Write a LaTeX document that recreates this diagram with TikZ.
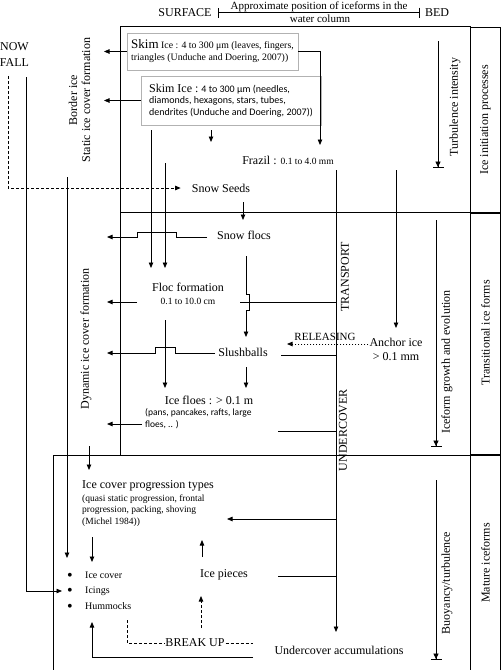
\documentclass[tikz,border=0pt]{standalone}
\usepackage{fontspec}
\setmainfont{Liberation Serif}
\newfontfamily\calfont{Carlito}
\usetikzlibrary{arrows.meta}
\newcommand\bigbul{\raisebox{-2.2pt}{\fontsize{16}{16}\selectfont\textbullet}}
\begin{document}
\begin{tikzpicture}[x=1pt,y=-1pt,
  ln/.style={line width=0.75pt},
  arr/.style={ln,-{Triangle[length=5.5pt,width=4.5pt]}},
  darr/.style={arr,dash pattern=on 3pt off 2pt},
  barr/.style={ln,-{Triangle[length=5.5pt,width=5pt,sep=0pt]Bar[width=11pt,line width=0.9pt]}},
  dsh/.style={ln,dash pattern=on 3pt off 2pt},
  t12/.style={font=\fontsize{12}{14}\selectfont,inner sep=1pt},
  rot/.style={t12,rotate=90},
  skbox/.style={draw=black!30,line width=0.5pt,align=left,inner sep=3pt},
  itm/.style={font=\fontsize{10}{12}\selectfont,inner sep=0pt,anchor=west},
]
\useasboundingbox (0,0) rectangle (503,670);
% ---------- frame ----------
\draw[ln] (120,455) -- (120,26) -- (470,26);
\draw[ln] (120,212) -- (470,212);
\draw[ln] (53,670) -- (53,455) -- (470,455);
\draw[line width=0.9pt] (470,26) -- (470,670) (470,27) -- (500,27) -- (500,670);
\draw[line width=1.6pt] (470,213) -- (501,213);
\draw[line width=1.3pt] (470,455) -- (501,455);
% ---------- header ----------
\node[t12] (surface) at (185,13) {SURFACE};
\node[font=\fontsize{11}{12}\selectfont,inner sep=0pt] (hdrA) at (319,6.5) {Approximate position of iceforms in the};
\node[font=\fontsize{11}{12}\selectfont,inner sep=0pt] (hdrB) at (320,19) {water column};
\node[t12] (bed) at (437,13) {BED};
\coordinate (hl) at (218,12.5);
\coordinate (hr) at (420,12.5);
\draw[ln,{Bar[width=10pt]}-{Bar[width=10pt]}] (hl) -- (hr);
% ---------- side labels ----------
\node[font=\fontsize{12}{16}\selectfont,inner sep=1pt,align=center] (snow) at (14.5,55) {NOW\\FALL};
\node[rot,align=center,font=\fontsize{12}{13}\selectfont] (border) at (79.5,100) {Border ice\\Static ice cover formation};
\node[rot] (dyn) at (86,339) {Dynamic ice cover formation};
\node[rot] (turb) at (455,107) {Turbulence intensity};
\node[rot] (rc1) at (485.5,120) {Ice initiation processes};
\node[rot] (ifg) at (447,362) {Iceform growth and evolution};
\node[rot] (rc2) at (485.5,333) {Transitional ice forms};
\node[rot] (buoy) at (447,583) {Buoyancy/turbulence};
\node[rot] (rc3) at (485.5,563) {Mature iceforms};
\node[rot] (transport) at (345,277) {TRANSPORT};
\node[rot] (under) at (343,430) {UNDERCOVER};
% ---------- skim ice boxes ----------
\node[skbox,font=\fontsize{9.8}{12}\selectfont,minimum width=171pt,minimum height=37pt] (skim1) at (212.5,51.5)
  {{\fontsize{13}{12}\selectfont Skim} Ice : 4 to 300 μm (leaves, fingers,\\triangles (Unduche and Doering, 2007))};
\node[skbox,font=\calfont\fontsize{10}{11.5}\selectfont,minimum width=180pt,minimum height=49pt] (skim2) at (231,100.5)
  {{\rmfamily\fontsize{12}{11.5}\selectfont Skim Ice :} 4 to 300 μm (needles,\\diamonds, hexagons, stars, tubes,\\dendrites (Unduche and Doering, 2007))};
% ---------- ice forms ----------
\node[t12] (frazil) at (288,160) {Frazil : {\fontsize{9.5}{11}\selectfont 0.1 to 4.0 mm}};
\node[t12] (seeds) at (221,188) {Snow Seeds};
\node[t12] (flocs) at (244,235) {Snow flocs};
\node[t12,align=center,font=\fontsize{12}{12.5}\selectfont] (floc) at (188,294) {Floc formation\\{\fontsize{9.5}{11}\selectfont 0.1 to 10.0 cm}};
\node[t12] (slush) at (243,352) {Slushballs};
\node[t12,align=center] (anchor) at (396,349) {Anchor ice\\> 0.1 mm};
\node[font=\fontsize{11}{12}\selectfont,inner sep=0pt] (rel) at (325,337) {RELEASING};
\node[t12] (floes) at (209,400) {Ice floes : > 0.1 m};
\node[anchor=west,inner sep=0pt,align=left,font=\calfont\fontsize{9.5}{12}\selectfont] (floessub) at (145,419) {(pans, pancakes, rafts, large\\floes, .. )};
\node[t12,anchor=west,inner sep=0pt] (icp) at (82,486) {Ice cover progression types};
\node[anchor=west,inner sep=0pt,align=left,font=\fontsize{9.5}{11.5}\selectfont] (icpsub) at (82,510.5) {(quasi static progression, frontal\\progression, packing, shoving\\(Michel 1984))};
\node[itm] (icecover) at (67,576) {\bigbul\hspace{12.4pt}Ice cover};
\node[itm] (icings) at (67,591) {\bigbul\hspace{12.4pt}Icings};
\node[itm] (hummocks) at (67,607) {\bigbul\hspace{12.4pt}Hummocks};
\node[t12] (icepieces) at (224,575) {Ice pieces};
\node[t12] (breakup) at (195,643) {BREAK UP};
\node[t12] (ucacc) at (339,650) {Undercover accumulations};
% ---------- named free ends ----------
\coordinate (lb) at (104,0);
\coordinate (lc) at (107,0);
\coordinate (fz) at (320,145);
\coordinate (s2a) at (211,130);
\coordinate (s2b) at (211,142);
\coordinate (sfa) at (8,76);
\coordinate (sfb) at (26,77);
\coordinate (bi1) at (67,177);
\coordinate (bi2) at (67,558);
\coordinate (v1) at (151,130);
\coordinate (v2) at (165,163);
\coordinate (vt) at (0,268);
\coordinate (k1) at (243,202);
\coordinate (k2) at (243,220);
\coordinate (tr1) at (336,170);
\coordinate (tr2) at (336,632);
\coordinate (an1) at (396,170);
\coordinate (an2) at (396,328);
\coordinate (tu1) at (438,41);
\coordinate (tu2) at (438,168);
\coordinate (ig1) at (436,220);
\coordinate (ig2) at (436,447);
\coordinate (bu1) at (436,480);
\coordinate (bu2) at (436,660);
\coordinate (relt) at (287,344);
\coordinate (hu1) at (127,620);
\coordinate (br2) at (253,643);
\coordinate (uc1) at (253,657);
\coordinate (hmt) at (92,622);
% ---------- connectors ----------
\draw[arr] (skim1.west) -- (skim1.west -| lb);
\draw[arr] (skim2.west) -- (skim2.west -| lb);
\draw[arr] (skim1.east) -| (fz);
\draw[arr] (s2a) -- (s2b);
\draw[darr] (sfa) |- ([xshift=-10pt]seeds.west);
\draw[arr] (sfb) |- ([xshift=-5pt]icings.west);
\draw[arr] (bi1) -- (bi2);
\draw[arr] (v1) -- (v1 |- vt);
\draw[arr] (v2) -- (v2 |- vt);
\draw[arr] (k1) -- (k2);
\draw[arr] (tr1) -- (tr2);
\draw[arr] (an1) -- (an2);
\draw[barr] (tu1) -- (tu2);
\draw[barr] (ig1) -- (ig2);
\draw[barr] (bu1) -- (bu2);
% dynamic formation arrows (with line jumps)
\draw[arr] (207,237) -- (176,237) -- (176,232) -- (137,232) -- (137,237) -- (107,237);
\draw[arr] (137,302) -- (107,302);
\draw[ln] (240,302) -- (336,302);
\draw[arr] (246,256) -- (246,294) -- (249,294) -- (249,310) -- (246,310) -- (246,337);
\draw[arr] (165,320) -- (165,388);
\draw[arr] (215,353) -- (175,353) -- (175,347) -- (155,347) -- (155,353) -- (107,353);
\draw[arr] (246,367) -- (246,388);
\draw[ln] (281,355) -- (336,355);
\draw[arr,dash pattern=on 1.5pt off 1.5pt] ([yshift=5pt]anchor.west) -- (relt);
\draw[arr] (142,424) -- (107,424);
\draw[ln] (278,431) -- (336,431);
% mature iceforms
\draw[arr] (89,446) -- (89,470);
\draw[arr] (92,537) -- (92,562);
\draw[arr] (336,519) -- (227,519);
\draw[arr] (202,557) -- (202,540);
\draw[ln] (278,576) -- (336,576);
\draw[darr] (201,628) -- (201,596);
\draw[dsh] (hu1) |- (breakup.west);
\draw[dsh] (breakup.east) -- (br2);
\draw[arr] (uc1) -| (hmt);
\end{tikzpicture}
\end{document}
